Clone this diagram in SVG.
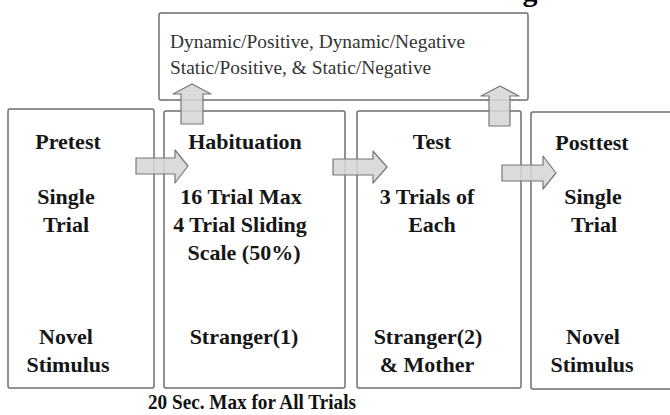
<svg xmlns="http://www.w3.org/2000/svg" width="670" height="415" viewBox="0 0 670 415">
<style>
.box{fill:#fff;stroke:#6e6e6e;stroke-width:1.5}
.lbl{font-family:"Liberation Serif","Times New Roman",serif;font-weight:bold;font-size:22px;fill:#161616;text-anchor:middle}
.note{font-family:"Liberation Serif","Times New Roman",serif;font-size:19.4px;fill:#333}
.arr{fill:#d6d6d6;fill-opacity:0.88;stroke:#777;stroke-width:1.2;stroke-linejoin:round}
</style>
<rect width="670" height="415" fill="#fff"/>
<text x="530" y="1" font-family="Liberation Serif, serif" font-weight="bold" font-size="30" fill="#000" text-anchor="middle">g</text>
<g id="conditions">
<rect class="box" x="159" y="13" width="369" height="87" rx="2"/>
<text class="note" x="170" y="48">Dynamic/Positive, Dynamic/Negative</text>
<text class="note" x="170" y="74">Static/Positive, &amp; Static/Negative</text>
</g>
<g id="pretest">
<rect class="box" x="8" y="109" width="146" height="279" rx="2"/>
<text class="lbl" x="68" y="149">Pretest</text>
<text class="lbl" x="66" y="204">Single</text>
<text class="lbl" x="66" y="232">Trial</text>
<text class="lbl" x="66" y="344">Novel</text>
<text class="lbl" x="68" y="372">Stimulus</text>
</g>
<g id="habituation">
<rect class="box" x="164" y="111" width="181" height="277" rx="2"/>
<text class="lbl" x="245" y="149">Habituation</text>
<text class="lbl" x="241" y="204">16 Trial Max</text>
<text class="lbl" x="240" y="232">4 Trial Sliding</text>
<text class="lbl" x="244" y="260">Scale (50%)</text>
<text class="lbl" x="244" y="344">Stranger(1)</text>
</g>
<g id="test">
<rect class="box" x="357" y="111" width="164" height="277" rx="2"/>
<text class="lbl" x="432" y="149">Test</text>
<text class="lbl" x="427" y="204">3 Trials of</text>
<text class="lbl" x="432" y="232">Each</text>
<text class="lbl" x="428" y="344">Stranger(2)</text>
<text class="lbl" x="427" y="372">&amp; Mother</text>
</g>
<g id="posttest">
<rect class="box" x="531" y="112" width="150" height="277" rx="2"/>
<text class="lbl" x="592" y="150">Posttest</text>
<text class="lbl" x="593" y="204">Single</text>
<text class="lbl" x="594" y="232">Trial</text>
<text class="lbl" x="593" y="344">Novel</text>
<text class="lbl" x="592" y="372">Stimulus</text>
</g>
<g id="connectors">
<path class="arr" d="M136,158 H175 V150 L188,166 L175,183 V174 H136 Z"/>
<path class="arr" d="M333,159 H373 V151 L387,167 L373,183 V175 H333 Z"/>
<path class="arr" d="M502,165 H543 V156 L556,173 L543,189 V181 H502 Z"/>
<path class="arr" d="M181,124 V94 H173 L192,84 L211,94 H203 V124 Z"/>
<path class="arr" d="M489,126 V96 H481 L500,86 L519,96 H510 V126 Z"/>
</g>
<text x="148" y="409" font-family="Liberation Serif, serif" font-weight="bold" font-size="21" fill="#111" textLength="208" lengthAdjust="spacingAndGlyphs">20 Sec. Max for All Trials</text>
</svg>
